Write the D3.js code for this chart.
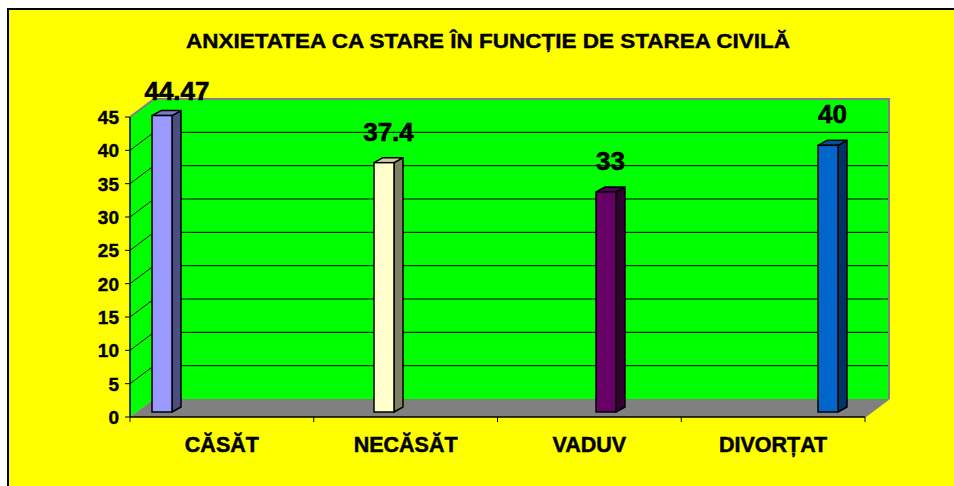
<!DOCTYPE html>
<html><head><meta charset="utf-8">
<script src="https://cdn.jsdelivr.net/npm/d3@7"></script>
<style>html,body{margin:0;padding:0;background:#fff;overflow:hidden}</style>
</head><body>
<svg id="c" width="954" height="486"></svg>
<script>
const title = "ANXIETATEA CA STARE ÎN FUNCȚIE DE STAREA CIVILĂ";
const categories = ["CĂSĂT", "NECĂSĂT", "VADUV", "DIVORȚAT"];
const values = [44.47, 37.4, 33, 40];
const valueLabels = ["44.47", "37.4", "33", "40"];
const barColors = ["#9999FF", "#FFFFCC", "#660066", "#0066CC"];
const yTicks = [0, 5, 10, 15, 20, 25, 30, 35, 40, 45];

const svg = d3.select("#c");
const font = "'Liberation Sans', Arial, sans-serif";

// chart area background
svg.append("rect").attr("x", 8).attr("y", 9).attr("width", 960).attr("height", 490)
  .attr("fill", "#FFFF00").attr("stroke", "#000").attr("stroke-width", 2);

svg.append("text").attr("x", 488).attr("y", 48).attr("text-anchor", "middle")
  .attr("font-family", font).attr("font-weight", "bold").attr("font-size", 20)
  .attr("stroke", "#000").attr("stroke-width", 0.4)
  .attr("textLength", 604).attr("lengthAdjust", "spacingAndGlyphs")
  .text(title);

// 3D geometry
const DX = 24, DY = -18;
const x = d3.scaleBand().domain(categories).range([130, 865]).paddingInner(0).paddingOuter(0);
const yFront = d3.scaleLinear().domain([0, 45]).range([417, 117]);
const yBack = v => yFront(v) + DY;
const x0 = 130, x1 = 865;

// back wall
svg.append("rect").attr("x", x0 + DX).attr("y", yBack(45)).attr("width", x1 - x0)
  .attr("height", yBack(0) - yBack(45)).attr("fill", "#00FF00");
// left wall
svg.append("polygon")
  .attr("points", [[x0, yFront(0)], [x0, yFront(45)], [x0 + DX, yBack(45)], [x0 + DX, yBack(0)]].map(p => p.join(",")).join(" "))
  .attr("fill", "#00FF00");
// gridlines
const gridVals = yTicks.filter(v => v > 0 && v < 45);
svg.append("g").selectAll("line").data(gridVals).join("line")
  .attr("x1", x0 + DX).attr("x2", x1 + DX).attr("y1", d => yBack(d)).attr("y2", d => yBack(d))
  .attr("stroke", "#000").attr("stroke-width", 1);
svg.append("g").selectAll("line").data(gridVals).join("line")
  .attr("x1", x0).attr("x2", x0 + DX).attr("y1", d => yFront(d)).attr("y2", d => yBack(d))
  .attr("stroke", "#000").attr("stroke-width", 1);
// wall outlines
svg.append("path")
  .attr("d", `M${x0},${yFront(45)} L${x0 + DX},${yBack(45)} L${x1 + DX},${yBack(45)} L${x1 + DX},${yBack(0)}`)
  .attr("fill", "none").attr("stroke", "#808080").attr("stroke-width", 2);
// floor
svg.append("polygon")
  .attr("points", [[x0, yFront(0)], [x0 + DX, yBack(0)], [x1 + DX, yBack(0)], [x1, yFront(0)]].map(p => p.join(",")).join(" "))
  .attr("fill", "#808080");
svg.append("line").attr("x1", x1).attr("y1", yFront(0)).attr("x2", x1 + DX).attr("y2", yBack(0))
  .attr("stroke", "#808080").attr("stroke-width", 1.5);

// axes
svg.append("line").attr("x1", x0).attr("x2", x0).attr("y1", yFront(45)).attr("y2", yFront(0))
  .attr("stroke", "#000").attr("stroke-width", 1.5);
svg.append("line").attr("x1", x0).attr("x2", x1).attr("y1", yFront(0)).attr("y2", yFront(0))
  .attr("stroke", "#000").attr("stroke-width", 1.5);
svg.append("g").selectAll("line").data(yTicks).join("line")
  .attr("x1", x0 - 5).attr("x2", x0).attr("y1", d => yFront(d)).attr("y2", d => yFront(d))
  .attr("stroke", "#000");
svg.append("g").selectAll("text").data(yTicks).join("text")
  .attr("x", 119).attr("y", d => yFront(d) + 7).attr("text-anchor", "end")
  .attr("font-family", font).attr("font-weight", "bold").attr("font-size", 19)
  .attr("stroke", "#000").attr("stroke-width", 0.4)
  .text(d => d);
const xTickPos = categories.map(c => x(c)).concat([x1]);
svg.append("g").selectAll("line").data(xTickPos).join("line")
  .attr("x1", d => d).attr("x2", d => d).attr("y1", yFront(0)).attr("y2", yFront(0) + 5)
  .attr("stroke", "#000");
svg.append("g").selectAll("text").data(categories).join("text")
  .attr("x", d => x(d) + x.bandwidth() / 2).attr("y", 452).attr("text-anchor", "middle")
  .attr("font-family", font).attr("font-weight", "bold").attr("font-size", 21.5)
  .attr("stroke", "#000").attr("stroke-width", 0.5)
  .text(d => d);

// bars
const bx = d3.scalePoint().domain(categories).range([152, 818]);
const BW = 20, BDX = 9, BDY = -5;
const bBase = 412;
const bScale = d3.scaleLinear().domain([0, 45]).range([bBase, bBase - 300]);
const shade = (c, k) => { const r = d3.rgb(c); return d3.rgb(r.r * k, r.g * k, r.b * k).formatHex(); };
const bars = svg.append("g").selectAll("g").data(categories).join("g");
bars.append("polygon")
  .attr("points", (d, i) => { const l = bx(d) + BW, t = bScale(values[i]);
    return [[l, bBase], [l, t], [l + BDX, t + BDY], [l + BDX, bBase + BDY]].map(p => p.join(",")).join(" "); })
  .attr("fill", (d, i) => shade(barColors[i], 0.5)).attr("stroke", "#000").attr("stroke-width", 1.5).attr("stroke-linejoin", "round");
bars.append("polygon")
  .attr("points", (d, i) => { const l = bx(d), t = bScale(values[i]);
    return [[l, t], [l + BDX, t + BDY], [l + BW + BDX, t + BDY], [l + BW, t]].map(p => p.join(",")).join(" "); })
  .attr("fill", (d, i) => shade(barColors[i], 0.8)).attr("stroke", "#000").attr("stroke-width", 1.5).attr("stroke-linejoin", "round");
bars.append("rect")
  .attr("x", d => bx(d)).attr("y", (d, i) => bScale(values[i]))
  .attr("width", BW).attr("height", (d, i) => bBase - bScale(values[i]))
  .attr("fill", (d, i) => barColors[i]).attr("stroke", "#000").attr("stroke-width", 1.5);
bars.append("text")
  .attr("x", (d, i) => Math.max(bx(d) + (BW + BDX) / 2, 177))
  .attr("y", (d, i) => Math.max(100, bScale(values[i]) + BDY - 17))
  .attr("text-anchor", "middle")
  .attr("font-family", font).attr("font-weight", "bold").attr("font-size", 26)
  .attr("stroke", "#000").attr("stroke-width", 0.6)
  .text((d, i) => valueLabels[i]);
</script>
</body></html>
